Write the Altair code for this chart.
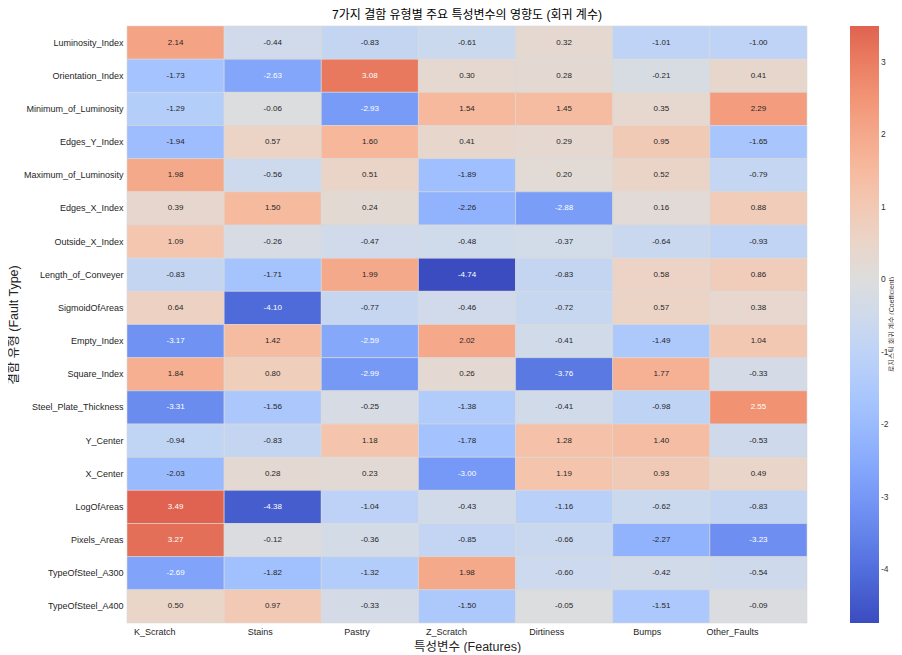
import altair as alt
import pandas as pd

features = [
    "Luminosity_Index", "Orientation_Index", "Minimum_of_Luminosity", "Edges_Y_Index",
    "Maximum_of_Luminosity", "Edges_X_Index", "Outside_X_Index", "Length_of_Conveyer",
    "SigmoidOfAreas", "Empty_Index", "Square_Index", "Steel_Plate_Thickness",
    "Y_Center", "X_Center", "LogOfAreas", "Pixels_Areas", "TypeOfSteel_A300", "TypeOfSteel_A400",
]
faults = ["K_Scratch", "Stains", "Pastry", "Z_Scratch", "Dirtiness", "Bumps", "Other_Faults"]

k_scratch = [2.14, -1.73, -1.29, -1.94, 1.98, 0.39, 1.09, -0.83, 0.64, -3.17, 1.84, -3.31, -0.94, -2.03, 3.49, 3.27, -2.69, 0.50]
stains = [-0.44, -2.63, -0.06, 0.57, -0.56, 1.50, -0.26, -1.71, -4.10, 1.42, 0.80, -1.56, -0.83, 0.28, -4.38, -0.12, -1.82, 0.97]
pastry = [-0.83, 3.08, -2.93, 1.60, 0.51, 0.24, -0.47, 1.99, -0.77, -2.59, -2.99, -0.25, 1.18, 0.23, -1.04, -0.36, -1.32, -0.33]
z_scratch = [-0.61, 0.30, 1.54, 0.41, -1.89, -2.26, -0.48, -4.74, -0.46, 2.02, 0.26, -1.38, -1.78, -3.00, -0.43, -0.85, 1.98, -1.50]
dirtiness = [0.32, 0.28, 1.45, 0.29, 0.20, -2.88, -0.37, -0.83, -0.72, -0.41, -3.76, -0.41, 1.28, 1.19, -1.16, -0.66, -0.60, -0.05]
bumps = [-1.01, -0.21, 0.35, 0.95, 0.52, 0.16, -0.64, 0.58, 0.57, -1.49, 1.77, -0.98, 1.40, 0.93, -0.62, -2.27, -0.42, -1.51]
other_faults = [-1.00, 0.41, 2.29, -1.65, -0.79, 0.88, -0.93, 0.86, 0.38, 1.04, -0.33, 2.55, -0.53, 0.49, -0.83, -3.23, -0.54, -0.09]

legend_ticks = [-4, -3, -2, -1, 0, 1, 2, 3]
colorbar_title = "로지스틱 회귀 계수 (Coefficient)"

columns = [k_scratch, stains, pastry, z_scratch, dirtiness, bumps, other_faults]

rows = []
for fault, vals in zip(faults, columns):
    for feat, v in zip(features, vals):
        rows.append({"fault": fault, "feature": feat, "value": v, "label": f"{v:.2f}"})
df = pd.DataFrame(rows)

# coolwarm centred on 0 (seaborn center=0), truncated to the data range
stops = [-4.74, -4.1475, -3.555, -2.9625, -2.37, -1.7775, -1.185, -0.5925, 0.0,
         0.5925, 1.185, 1.7775, 2.37, 2.9625, 3.49]
colors = ["#3b4cc0", "#4d68d7", "#6282ea", "#779af7", "#8db0fe", "#a3c2fe", "#b8d0f9",
          "#ccd9ee", "#dddddd", "#ecd3c5", "#f5c4ac", "#f6b194", "#f49a7b", "#eb7f62", "#df6350"]

font = "Liberation Sans, Noto Sans CJK KR, sans-serif"
W, H = 680, 597

base = alt.Chart(df).encode(
    x=alt.X("fault:N", sort=faults, title="특성변수 (Features)",
            scale=alt.Scale(paddingInner=0, paddingOuter=0),
            axis=alt.Axis(labelAngle=0, labelAlign="right", labelBaseline="top",
                          ticks=False, domain=False, labelPadding=4, titlePadding=4,
                          labelFontSize=9, titleFontSize=12.5, titleFontWeight="normal")),
    y=alt.Y("feature:N", sort=features, title="결함 유형 (Fault Type)",
            scale=alt.Scale(paddingInner=0, paddingOuter=0),
            axis=alt.Axis(ticks=False, domain=False, labelPadding=4, titlePadding=3,
                          labelFontSize=9, titleFontSize=12.5, titleFontWeight="normal")),
)

rects = base.mark_rect(stroke="#d9d9d9", strokeWidth=0.6).encode(
    color=alt.Color("value:Q",
                    scale=alt.Scale(domain=stops, range=colors, interpolate="rgb"),
                    legend=alt.Legend(title=None,
                                      orient="right", offset=43,
                                      gradientLength=H, gradientThickness=29,
                                      values=legend_ticks,
                                      labelExpr="'' + datum.value",
                                      labelFontSize=8.5, labelColor="#333333", labelOffset=2,
                                      gradientStrokeWidth=0))
)

texts = base.mark_text(fontSize=8, font=font).encode(
    text="label:N",
    color=alt.condition("datum.value < -2.5 || datum.value > 2.5",
                        alt.value("white"), alt.value("#262626")),
)

cbar_label = alt.Chart(pd.DataFrame({"t": [colorbar_title]})).mark_text(
    angle=270, fontSize=7, font=font, color="#333333", align="center", baseline="middle"
).encode(text="t:N", x=alt.value(W + 85), y=alt.value(H / 2))

chart = (rects + texts + cbar_label).properties(
    width=W, height=H,
    title=alt.TitleParams("7가지 결함 유형별 주요 특성변수의 영향도 (회귀 계수)",
                          fontSize=12, fontWeight="normal", anchor="middle", offset=4,
                          font=font, color="black"),
    autosize=alt.AutoSizeParams(type="none"),
    padding={"left": 119, "top": 18, "right": 87, "bottom": 30},
).configure(font=font).configure_view(stroke=None).configure_axis(
    labelFont=font, titleFont=font, labelColor="#262626", titleColor="#262626"
).configure_legend(labelFont=font, titleFont=font)

chart.save("out.html", embed_options={"renderer": "svg", "actions": False})
